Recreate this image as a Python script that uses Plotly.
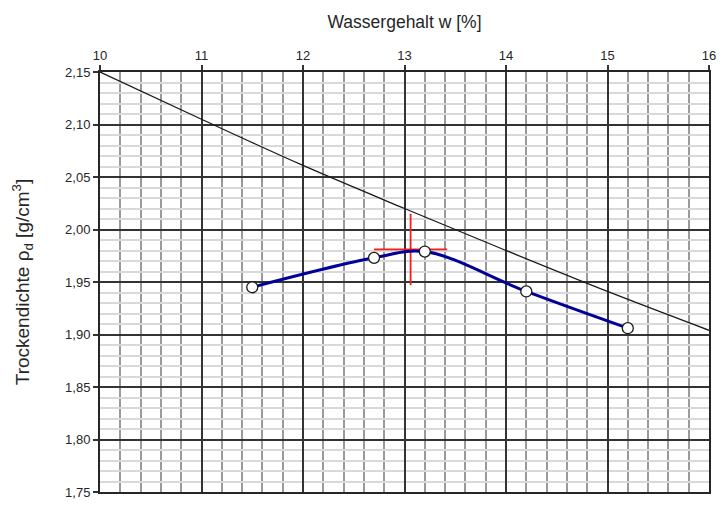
import plotly.graph_objects as go

# Measured Proctor points: water content w [%] and dry density rho_d [g/cm3]
w_points = [11.5, 12.7, 13.2, 14.2, 15.2]
rho_points = [1.945, 1.973, 1.979, 1.941, 1.906]

# Saturation line
w_sat = [10, 11, 12, 13, 14, 15, 16]
rho_sat = [2.150, 2.105, 2.061, 2.020, 1.980, 1.941, 1.904]

# Proctor optimum (red cross)
w_opt = 13.06
rho_opt = 1.981
cross_dw = 0.36
cross_drho = 0.034

x_range = [10, 16]
y_range = [1.75, 2.15]

fig = go.Figure()

fig.add_trace(go.Scatter(x=w_sat, y=rho_sat, mode="lines",
                         line=dict(color="#1a1a1a", width=1.3, shape="spline"),
                         showlegend=False, hoverinfo="skip"))

fig.add_trace(go.Scatter(x=[w_opt - cross_dw, w_opt + cross_dw, None, w_opt, w_opt],
                         y=[rho_opt, rho_opt, None, rho_opt + cross_drho, rho_opt - cross_drho],
                         mode="lines", line=dict(color="#ff1a1a", width=1.8),
                         showlegend=False, hoverinfo="skip"))

fig.add_trace(go.Scatter(x=w_points, y=rho_points, mode="lines+markers",
                         line=dict(color="#000099", width=3, shape="spline", smoothing=1),
                         marker=dict(size=11, color="white",
                                     line=dict(color="#1a1a1a", width=1.3)),
                         showlegend=False))

font_family = "Liberation Sans, Arial, sans-serif"

fig.update_layout(
    width=722, height=506,
    margin=dict(l=100, r=6, t=72, b=9),
    paper_bgcolor="white", plot_bgcolor="white",
    separators=",.",
    font=dict(family=font_family, size=13, color="#262626"),
    xaxis=dict(
        side="top", range=x_range, tickmode="linear", tick0=10, dtick=1,
        ticks="outside", ticklen=5, tickcolor="#333333", tickwidth=1.5,
        showgrid=True, gridcolor="#333333", gridwidth=2,
        minor=dict(tickmode="linear", tick0=10, dtick=0.2, showgrid=True,
                   gridcolor="#9a9a9a", gridwidth=2),
        showline=True, linecolor="#262626", linewidth=2, mirror=True,
        zeroline=False, layer="below traces",
        tickfont=dict(size=13, color="#262626"),
        title=dict(text="Wassergehalt w [%]", font=dict(size=17.5, color="#262626"), standoff=15),
    ),
    yaxis=dict(
        range=y_range, tickmode="linear", tick0=1.75, dtick=0.05, tickformat=".2f",
        ticks="outside", ticklen=5, tickcolor="#333333", tickwidth=1.5,
        showgrid=True, gridcolor="#333333", gridwidth=2,
        minor=dict(tickmode="linear", tick0=1.75, dtick=0.01, showgrid=True,
                   gridcolor="#d9d9d9", gridwidth=1.5),
        showline=True, linecolor="#262626", linewidth=2, mirror=True,
        zeroline=False,
        tickfont=dict(size=13, color="#262626"),
        title=dict(text="Trockendichte ρ<sub>d</sub> [g/cm<sup>3</sup>]",
                   font=dict(size=19, color="#262626"), standoff=30),
    ),
)

fig.write_html("out.html")
